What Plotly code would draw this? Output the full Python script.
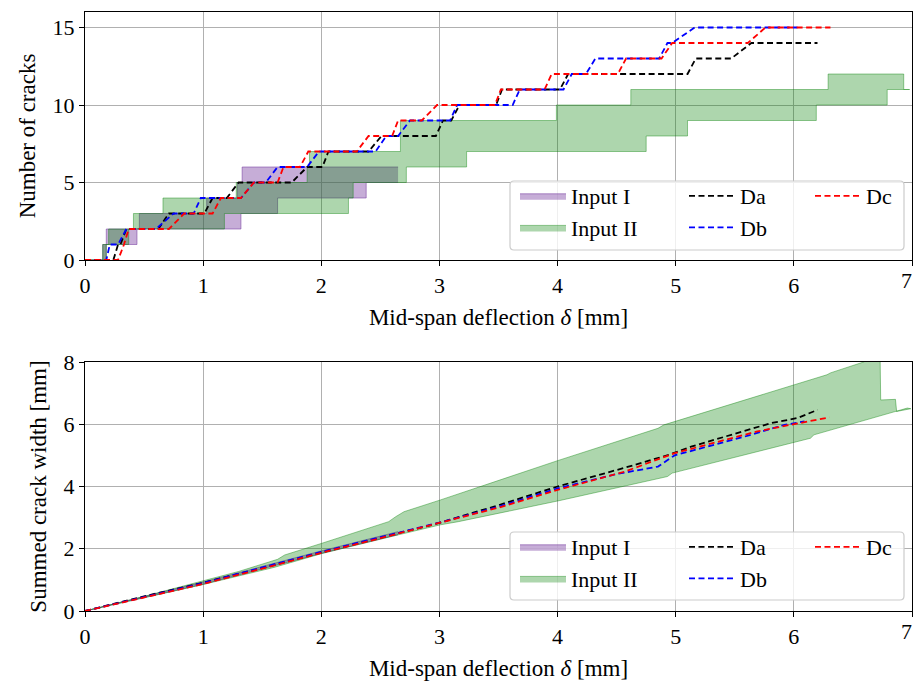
import plotly.graph_objects as go

FONT = "Liberation Serif, Times New Roman, serif"

# ---------------- Top panel: number of cracks ----------------
# Input I band (lower/upper step bounds)
top_in1_up_x = [0, 0.15, 0.18, 0.46, 1.03, 1.29, 1.33, 2.65]
top_in1_up_n = [0, 1, 2, 3, 4, 5, 6, 6]
top_in1_lo_x = [0, 0.18, 0.44, 1.32, 1.63, 2.38, 2.65]
top_in1_lo_n = [0, 1, 2, 3, 4, 5, 5]
# Input II band
top_in2_up_x = [0, 0.15, 0.20, 0.41, 0.66, 1.28, 1.88, 1.90, 2.67, 3.99, 4.62, 6.29, 6.93, 6.98]
top_in2_up_n = [0, 1, 2, 3, 4, 5, 6, 7, 9, 10, 11, 12, 11, 11]
top_in2_lo_x = [0, 0.18, 0.37, 1.18, 2.23, 2.27, 2.72, 3.23, 4.75, 5.10, 6.19, 6.79, 6.98]
top_in2_lo_n = [0, 1, 2, 3, 4, 5, 6, 7, 8, 9, 10, 11, 11]
# Tests
top_da_x = [0, 0.24, 0.28, 0.30, 0.35, 0.62, 0.71, 1.01, 1.08, 1.20, 1.30, 1.75, 1.88, 2.01, 2.06,
            2.40, 2.51, 2.97, 3.03, 3.10, 3.17, 3.48, 3.53, 4.02, 4.09, 5.10, 5.17, 5.47, 5.64, 6.20]
top_da_n = [0, 0, 1, 1, 2, 2, 3, 3, 4, 4, 5, 5, 6, 6, 7, 7, 8, 8, 9, 9, 10, 10, 11, 11, 12, 12, 13, 13, 14, 14]
top_db_x = [0, 0.18, 0.21, 0.28, 0.35, 0.60, 0.75, 0.92, 0.98, 1.32, 1.43, 1.53, 1.63, 1.88, 1.98, 2.46,
            2.55, 2.65, 2.75, 3.09, 3.15, 3.62, 3.68, 4.05, 4.12, 4.24, 4.32, 4.86, 4.93, 4.97, 5.16, 6.03]
top_db_n = [0, 0, 1, 1, 2, 2, 3, 3, 4, 4, 5, 5, 6, 6, 7, 7, 8, 8, 9, 9, 10, 10, 11, 11, 12, 12, 13, 13,
            14, 14, 15, 15]
top_dc_x = [0, 0.28, 0.33, 0.37, 0.71, 0.84, 1.08, 1.15, 1.32, 1.43, 1.63, 1.68, 1.82, 1.89, 2.30, 2.40,
            2.60, 2.65, 2.85, 2.98, 3.47, 3.52, 3.89, 3.95, 4.51, 4.58, 4.88, 4.97, 5.61, 5.76, 6.31]
top_dc_n = [0, 0, 1, 2, 2, 3, 3, 4, 4, 5, 5, 6, 6, 7, 7, 8, 8, 9, 9, 10, 10, 11, 11, 12, 12, 13, 13,
            14, 14, 15, 15]

# ---------------- Bottom panel: summed crack width ----------------
bot_in1_up_x = [0, 1.0, 2.0, 2.65]
bot_in1_up_w = [0, 0.93, 1.93, 2.55]
bot_in1_lo_x = [0, 1.0, 2.0, 2.65]
bot_in1_lo_w = [0, 0.86, 1.85, 2.45]
bot_in2_up_x = [0, 0.5, 1.0, 1.3, 1.63, 1.69, 2.0, 2.57, 2.63, 2.70, 3.01, 3.52, 4.0, 4.85, 4.90,
                6.28, 6.31, 6.59, 6.73, 6.735, 6.86, 6.87, 6.99]
bot_in2_up_w = [0, 0.47, 0.97, 1.27, 1.66, 1.80, 2.17, 2.87, 3.03, 3.19, 3.57, 4.21, 4.83, 5.87, 5.98,
                7.59, 7.65, 8.0, 8.25, 6.78, 6.80, 6.41, 6.50]
bot_in2_lo_x = [0, 0.5, 1.0, 1.6, 2.0, 2.6, 3.01, 3.16, 4.02, 4.93, 4.97, 6.14, 6.17, 6.96, 6.99]
bot_in2_lo_w = [0, 0.43, 0.85, 1.40, 1.84, 2.40, 2.77, 2.87, 3.55, 4.32, 4.43, 5.55, 5.66, 6.52, 6.50]
bot_da_x = [0, 0.5, 1.0, 1.5, 2.0, 2.5, 3.0, 3.5, 4.0, 4.65, 4.96, 5.13, 5.41, 5.80, 6.03, 6.20]
bot_da_w = [0, 0.47, 0.91, 1.38, 1.88, 2.35, 2.83, 3.40, 4.00, 4.69, 5.04, 5.28, 5.60, 6.03, 6.20, 6.46]
bot_db_x = [0, 0.5, 1.0, 1.5, 2.0, 2.5, 3.0, 3.5, 4.0, 4.5, 4.85, 4.99, 5.58, 5.92, 6.09]
bot_db_w = [0, 0.46, 0.90, 1.40, 1.90, 2.37, 2.84, 3.35, 3.94, 4.40, 4.64, 5.00, 5.60, 5.98, 6.09]
bot_dc_x = [0, 0.5, 1.0, 1.5, 2.0, 2.5, 3.0, 3.5, 4.0, 4.57, 4.99, 5.69, 5.97, 6.30]
bot_dc_w = [0, 0.44, 0.87, 1.36, 1.87, 2.34, 2.83, 3.32, 3.89, 4.48, 5.07, 5.77, 5.98, 6.22]

x_tick_vals = [0, 1, 2, 3, 4, 5, 6, 7]
series_names = ["Input I", "Input II", "Da", "Db", "Dc"]
PURPLE_FILL = "rgba(118,60,160,0.42)"
PURPLE_LINE = "rgba(118,60,160,0.55)"
GREEN_FILL = "rgba(0,128,0,0.32)"
GREEN_LINE = "rgba(0,128,0,0.40)"
LINE_COLORS = {"Da": "black", "Db": "#0000ff", "Dc": "#ff0000"}
DASH = "6px,3.5px"

fig = go.Figure()


def add_band(xl, yl, xu, yu, name, fillc, linec, xa, ya, legend, shape, lg):
    fig.add_trace(go.Scatter(x=xl, y=yl, mode="lines", line=dict(color=linec, width=1, shape=shape),
                             xaxis=xa, yaxis=ya, showlegend=False, hoverinfo="skip", legendgroup=lg,
                             legend=legend))
    fig.add_trace(go.Scatter(x=xu, y=yu, mode="lines", line=dict(color=linec, width=1, shape=shape),
                             fill="tonexty", fillcolor=fillc, xaxis=xa, yaxis=ya, name=name,
                             showlegend=True, legend=legend, legendgroup=lg))


def add_line(x, y, name, xa, ya, legend, lg):
    fig.add_trace(go.Scatter(x=x, y=y, mode="lines", name=name,
                             line=dict(color=LINE_COLORS[name], width=1.8, dash=DASH),
                             xaxis=xa, yaxis=ya, legend=legend, legendgroup=lg))


# top panel
add_band(top_in1_lo_x, top_in1_lo_n, top_in1_up_x, top_in1_up_n, series_names[0], PURPLE_FILL, PURPLE_LINE,
         "x", "y", "legend", "hv", "t1")
add_band(top_in2_lo_x, top_in2_lo_n, top_in2_up_x, top_in2_up_n, series_names[1], GREEN_FILL, GREEN_LINE,
         "x", "y", "legend", "hv", "t2")
add_line(top_da_x, top_da_n, "Da", "x", "y", "legend2", "t3")
add_line(top_db_x, top_db_n, "Db", "x", "y", "legend2", "t4")
add_line(top_dc_x, top_dc_n, "Dc", "x", "y", "legend3", "t5")

# bottom panel
add_band(bot_in1_lo_x, bot_in1_lo_w, bot_in1_up_x, bot_in1_up_w, series_names[0], PURPLE_FILL, PURPLE_LINE,
         "x2", "y2", "legend4", "linear", "b1")
add_band(bot_in2_lo_x, bot_in2_lo_w, bot_in2_up_x, bot_in2_up_w, series_names[1], GREEN_FILL, GREEN_LINE,
         "x2", "y2", "legend4", "linear", "b2")
add_line(bot_da_x, bot_da_w, "Da", "x2", "y2", "legend5", "b3")
add_line(bot_db_x, bot_db_w, "Db", "x2", "y2", "legend5", "b4")
add_line(bot_dc_x, bot_dc_w, "Dc", "x2", "y2", "legend6", "b5")

W, H = 914, 682
ML, MR, MT, MB = 85, 2, 12, 71
PW, PH = W - ML - MR, H - MT - MB


def px(xp):
    return (xp - ML) / PW


def py(yp):
    return (H - MB - yp) / PH


axis_common = dict(showgrid=True, gridcolor="#b0b0b0", gridwidth=1.3, showline=True, linecolor="black",
                   linewidth=1.3, mirror=True, ticks="outside", ticklen=5, tickwidth=1.3, tickcolor="black",
                   tickfont=dict(family=FONT, size=22, color="black"), zeroline=False, automargin=False)
title_font = dict(family=FONT, size=23, color="black")

fig.update_layout(
    width=W, height=H, margin=dict(l=ML, r=MR, t=MT, b=MB, autoexpand=False),
    paper_bgcolor="white", plot_bgcolor="white",
    xaxis=dict(axis_common, domain=[0, 1], anchor="y", range=[0, 7], tickvals=x_tick_vals,
               title=dict(text="Mid-span deflection <i>δ</i> [mm]", font=title_font, standoff=12)),
    yaxis=dict(axis_common, domain=[py(260), 1], anchor="x", range=[0, 16], tickvals=[0, 5, 10, 15],
               title=dict(text="Number of cracks", font=title_font, standoff=10)),
    xaxis2=dict(axis_common, domain=[0, 1], anchor="y2", range=[0, 7], tickvals=x_tick_vals,
                title=dict(text="Mid-span deflection <i>δ</i> [mm]", font=title_font, standoff=12)),
    yaxis2=dict(axis_common, domain=[0, py(362)], anchor="x2", range=[0, 8], dtick=2,
                title=dict(text="Summed crack width [mm]", font=title_font, standoff=10)),
    showlegend=True,
)

# last tick label sits against the figure edge, as in the original
for ybase in [py(260), 0]:
    fig.add_annotation(x=1, y=ybase, xref="paper", yref="paper", text=str(x_tick_vals[-1]),
                       showarrow=False, yanchor="top", xanchor="right", xshift=2, yshift=-6,
                       font=dict(family=FONT, size=22, color="black"))

leg_common = dict(bgcolor="rgba(0,0,0,0)", borderwidth=0, font=dict(family=FONT, size=22, color="black"),
                  xanchor="left", yanchor="top", traceorder="normal", itemwidth=46,
                  xref="paper", yref="paper")
for key, xp, yp in [("legend", 515, 175), ("legend2", 684, 175), ("legend3", 810, 175),
                    ("legend4", 515, 526), ("legend5", 684, 526), ("legend6", 810, 526)]:
    fig.update_layout({key: dict(leg_common, x=px(xp), y=py(yp))})


def rounded_box(x0p, y0p, x1p, y1p, r=4):
    x0, x1 = px(x0p), px(x1p)
    ya, yb = py(y1p), py(y0p)
    rx, ry = r / PW, r / PH
    return (f"M {x0 + rx},{ya} L {x1 - rx},{ya} Q {x1},{ya} {x1},{ya + ry} L {x1},{yb - ry} "
            f"Q {x1},{yb} {x1 - rx},{yb} L {x0 + rx},{yb} Q {x0},{yb} {x0},{yb - ry} L {x0},{ya + ry} "
            f"Q {x0},{ya} {x0 + rx},{ya} Z")


for (y0p, y1p) in [(181, 250), (532, 600)]:
    fig.add_shape(type="path", path=rounded_box(510, y0p, 904, y1p), xref="paper", yref="paper",
                  fillcolor="rgba(255,255,255,0.8)", line=dict(color="#cccccc", width=1.2), layer="above")

fig.write_html("out.html", config={"displayModeBar": False},
               post_script="document.body.style.margin='0px';document.body.style.overflow='hidden';")
